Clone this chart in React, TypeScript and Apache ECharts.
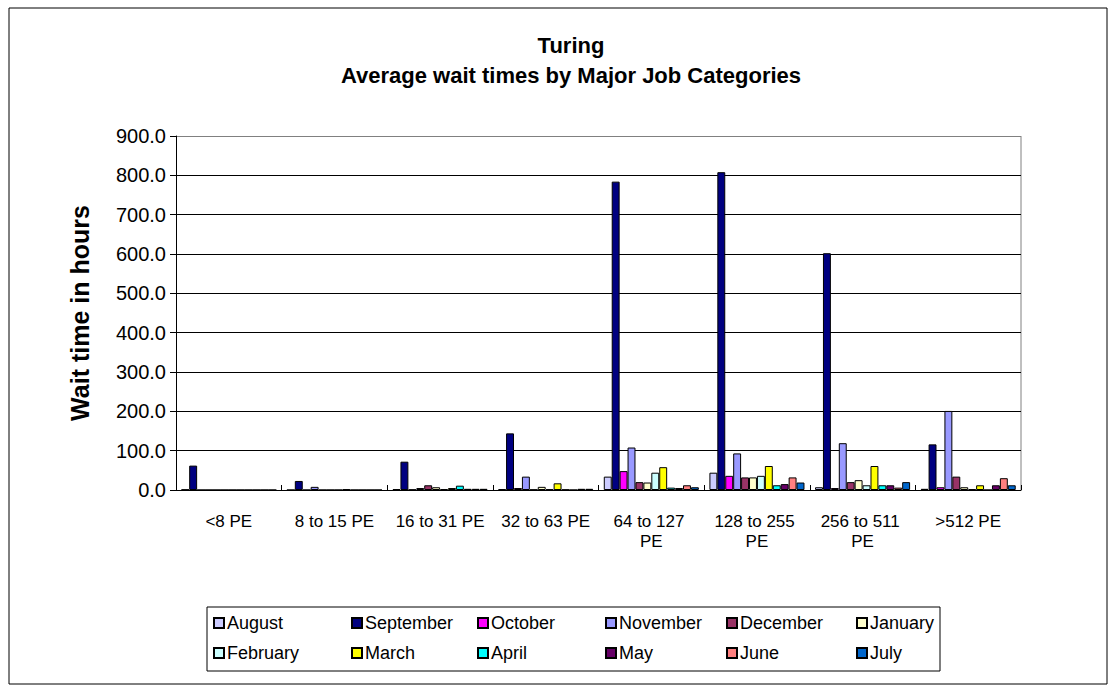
import React, { useEffect, useRef } from "react";
import * as echarts from "echarts";

const categories = ["<8 PE", "8 to 15 PE", "16 to 31 PE", "32 to 63 PE", "64 to 127 PE", "128 to 255 PE", "256 to 511 PE", ">512 PE"];
const months = ["August", "September", "October", "November", "December", "January", "February", "March", "April", "May", "June", "July"];
const august = [1, 0, 2, 2, 34, 44, 7, 3];
const september = [62, 23, 72, 144, 784, 808, 602, 116];
const october = [0, 0, 1, 5, 48, 36, 5, 7];
const november = [0, 8, 5, 34, 108, 93, 119, 201];
const december = [0, 0, 12, 1, 20, 32, 20, 34];
const january = [0, 0, 7, 8, 19, 32, 25, 7];
const february = [0, 0, 2, 2, 44, 36, 12, 2];
const march = [0, 2, 5, 17, 58, 61, 61, 12];
const april = [0, 0, 11, 1, 6, 12, 12, 0];
const may = [0, 0, 3, 0, 5, 15, 12, 12];
const june = [0, 0, 3, 3, 12, 32, 6, 30];
const july = [0, 0, 3, 3, 7, 19, 20, 12];
const seriesValues = [august, september, october, november, december, january, february, march, april, may, june, july];
const colors = ["#CCCCFF", "#000080", "#FF00FF", "#9999FF", "#993366", "#FFFFCC", "#CCFFFF", "#FFFF00", "#00FFFF", "#660066", "#FF8080", "#0066CC"];

const FONT = "'Liberation Sans', Arial, sans-serif";
const legendX = [213, 351, 477, 605, 726, 856];
const legendY = [614, 644];

export default function App() {
  const ref = useRef<HTMLDivElement>(null);
  useEffect(() => {
    if (!ref.current) return;
    const chart = echarts.init(ref.current, undefined, { renderer: "svg" });
    const gridColors = ["#000", "#000", "#000", "#000", "#000", "#000", "#000", "#000", "#000", "#808080"];
    chart.setOption({
      animation: false,
      backgroundColor: "#fff",
      color: colors,
      title: {
        text: "Turing\nAverage wait times by Major Job Categories",
        left: 566,
        textAlign: "center",
        top: 25,
        textStyle: { fontFamily: FONT, fontWeight: "bold", fontSize: 22, color: "#000", lineHeight: 30 },
      },
      grid: { left: 176, right: 95, top: 136, bottom: 202, containLabel: false },
      xAxis: {
        type: "category",
        data: categories,
        axisLine: { lineStyle: { color: "#000", width: 1 } },
        axisTick: { show: true, inside: true, length: 5, lineStyle: { color: "#000" } },
        axisLabel: {
          fontFamily: FONT,
          fontSize: 17,
          color: "#000",
          margin: 21,
          width: 96,
          overflow: "break",
          lineHeight: 20,
          interval: 0,
        },
        splitLine: { show: false },
      },
      yAxis: {
        type: "value",
        min: 0,
        max: 900,
        interval: 100,
        name: "Wait time in hours",
        nameLocation: "middle",
        nameGap: 84,
        nameTextStyle: { fontFamily: FONT, fontWeight: "bold", fontSize: 25, color: "#000" },
        axisLine: { show: true, lineStyle: { color: "#000", width: 1 } },
        axisTick: { show: true, length: 6, lineStyle: { color: "#000" } },
        axisLabel: {
          fontFamily: FONT,
          fontSize: 20,
          color: "#000",
          margin: 10,
          formatter: (v: number) => v.toFixed(1),
        },
        splitLine: { show: true, lineStyle: { color: gridColors, width: 1 } },
      },
      legend: months.map((m, i) => ({
        data: [m],
        left: legendX[i % 6],
        top: legendY[Math.floor(i / 6)],
        itemWidth: 10,
        itemHeight: 10,
        itemGap: 0,
        padding: 0,
        icon: "rect",
        textStyle: { fontFamily: FONT, fontSize: 18, color: "#000", padding: [0, 0, 0, -2] },
        selectedMode: false,
      })),
      graphic: [
        {
          type: "rect",
          shape: { x: 9, y: 8, width: 1098, height: 676 },
          style: { fill: "none", stroke: "#000", lineWidth: 1 },
          silent: true,
        },
        {
          type: "rect",
          shape: { x: 207, y: 607, width: 733, height: 64 },
          style: { fill: "none", stroke: "#000", lineWidth: 1 },
          silent: true,
        },
        {
          type: "line",
          shape: { x1: 1021, y1: 136, x2: 1021, y2: 490 },
          style: { stroke: "#808080", lineWidth: 1 },
          silent: true,
        },
      ],
      series: months.map((m, i) => ({
        name: m,
        type: "bar",
        data: seriesValues[i],
        barGap: "0%",
        barCategoryGap: "10%",
        itemStyle: { color: colors[i], borderColor: "#000", borderWidth: 1 },
      })),
    });
    return () => chart.dispose();
  }, []);
  return <div ref={ref} style={{ position: "absolute", left: 0, top: 0, width: 1116, height: 692 }} />;
}
